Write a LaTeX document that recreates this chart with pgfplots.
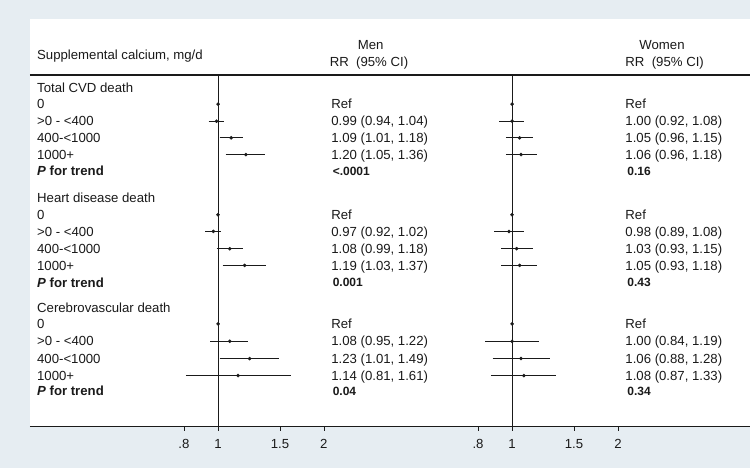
\documentclass[border=0pt]{standalone}
\usepackage{pgfplots}
\pgfplotsset{compat=1.18}
\usepackage{fontspec}
\setmainfont{Liberation Sans}
\definecolor{bgblue}{HTML}{E6EDF2}
\definecolor{ink}{HTML}{1A1A1A}
\newcommand{\tf}{\fontsize{13.2bp}{15bp}\selectfont}
\newcommand{\pf}{\fontsize{12bp}{14bp}\selectfont\bfseries}
\newcommand{\lab}[3]{\node[anchor=base west, inner sep=0, text=ink, font=\tf] at (#1,#2+4.7) {#3};}
\newcommand{\plab}[3]{\node[anchor=base west, inner sep=0, text=ink, font=\pf] at (#1,#2+4.4) {#3};}
\begin{document}
\begin{tikzpicture}
\begin{scope}[x=1bp,y=-1bp]
\useasboundingbox (0,0) rectangle (751,469);
\fill[bgblue] (0,0) rectangle (751,469);
\fill[white] (30,19) rectangle (751,427);
% header
\node[anchor=base west, inner sep=0, text=ink, font=\tf] at (37,59.7) {Supplemental calcium, mg/d};
\node[anchor=base west, inner sep=0, text=ink, font=\tf] at (358,49.2) {Men};
\node[anchor=base west, inner sep=0, text=ink, font=\tf] at (330,66.2) {RR\ \ (95\% CI)};
\node[anchor=base west, inner sep=0, text=ink, font=\tf] at (640,49.2) {Women};
\node[anchor=base west, inner sep=0, text=ink, font=\tf] at (626,66.2) {RR\ \ (95\% CI)};
% left labels
\lab{37}{88.3}{Total CVD death}
\lab{37}{104.3}{0}
\lab{37}{121.3}{>0 - <400}
\lab{37}{138}{400-<1000}
\lab{37}{154.8}{1000+}
\node[anchor=base west, inner sep=0, text=ink, font=\tf\bfseries] at (37,171+4.7) {\textit{P} for trend};
\lab{37}{198.3}{Heart disease death}
\lab{37}{215}{0}
\lab{37}{231.7}{>0 - <400}
\lab{37}{249}{400-<1000}
\lab{37}{265.7}{1000+}
\node[anchor=base west, inner sep=0, text=ink, font=\tf\bfseries] at (37,282.7+4.7) {\textit{P} for trend};
\lab{37}{308.3}{Cerebrovascular death}
\lab{37}{324.3}{0}
\lab{37}{341.7}{>0 - <400}
\lab{37}{359}{400-<1000}
\lab{37}{376}{1000+}
\node[anchor=base west, inner sep=0, text=ink, font=\tf\bfseries] at (37,391.7+4.7) {\textit{P} for trend};
% men column
\lab{331.5}{104.3}{Ref}
\lab{331.5}{121.3}{0.99 (0.94, 1.04)}
\lab{331.5}{138}{1.09 (1.01, 1.18)}
\lab{331.5}{154.8}{1.20 (1.05, 1.36)}
\plab{333}{171}{<.0001}
\lab{331.5}{215}{Ref}
\lab{331.5}{231.7}{0.97 (0.92, 1.02)}
\lab{331.5}{249}{1.08 (0.99, 1.18)}
\lab{331.5}{265.7}{1.19 (1.03, 1.37)}
\plab{333}{282.7}{0.001}
\lab{331.5}{324.3}{Ref}
\lab{331.5}{341.7}{1.08 (0.95, 1.22)}
\lab{331.5}{359}{1.23 (1.01, 1.49)}
\lab{331.5}{376}{1.14 (0.81, 1.61)}
\plab{333}{391.7}{0.04}
% women column
\lab{626}{104.3}{Ref}
\lab{626}{121.3}{1.00 (0.92, 1.08)}
\lab{626}{138}{1.05 (0.96, 1.15)}
\lab{626}{154.8}{1.06 (0.96, 1.18)}
\plab{628}{171}{0.16}
\lab{626}{215}{Ref}
\lab{626}{231.7}{0.98 (0.89, 1.08)}
\lab{626}{249}{1.03 (0.93, 1.15)}
\lab{626}{265.7}{1.05 (0.93, 1.18)}
\plab{628}{282.7}{0.43}
\lab{626}{324.3}{Ref}
\lab{626}{341.7}{1.00 (0.84, 1.19)}
\lab{626}{359}{1.06 (0.88, 1.28)}
\lab{626}{376}{1.08 (0.87, 1.33)}
\plab{628}{391.7}{0.34}
\end{scope}

% Men panel
\begin{axis}[at={(163.76bp,-75.3bp)}, anchor=north west,
  scale only axis, width=168bp, height=351.7bp,
  xmode=log, xmin=0.7, xmax=2.1,
  ymin=75.3, ymax=427, y dir=reverse,
  axis line style={draw=none},
  ytick=\empty,
  xtick={0.8,1,1.5,2}, xticklabels={.8,1,1.5,2},
  xtick pos=left, tick align=outside,
  major tick length=4.5bp,
  tick style={ink, line width=0.8bp},
  xticklabel style={font=\tf, text=ink, yshift=-5bp},
  clip=false,
  unbounded coords=jump]
\addplot[ink, line width=0.9bp] coordinates {(1,75.3) (1,427)};
\addplot[ink, line width=0.9bp] table[row sep=\\] {
x y\\
0.94 121.3\\ 1.04 121.3\\ nan nan\\
1.01 138\\ 1.18 138\\ nan nan\\
1.05 154.8\\ 1.36 154.8\\ nan nan\\
0.92 231.7\\ 1.02 231.7\\ nan nan\\
0.99 249\\ 1.18 249\\ nan nan\\
1.03 265.7\\ 1.37 265.7\\ nan nan\\
0.95 341.7\\ 1.22 341.7\\ nan nan\\
1.01 359\\ 1.49 359\\ nan nan\\
0.81 376\\ 1.61 376\\
};
\addplot[only marks, mark=*, mark size=1.6bp, ink] table[row sep=\\] {
x y\\
1 104.3\\ 0.99 121.3\\ 1.09 138\\ 1.20 154.8\\
1 215\\ 0.97 231.7\\ 1.08 249\\ 1.19 265.7\\
1 324.3\\ 1.08 341.7\\ 1.23 359\\ 1.14 376\\
};
\end{axis}

% Women panel
\begin{axis}[at={(458.16bp,-75.3bp)}, anchor=north west,
  scale only axis, width=168bp, height=351.7bp,
  xmode=log, xmin=0.7, xmax=2.1,
  ymin=75.3, ymax=427, y dir=reverse,
  axis line style={draw=none},
  ytick=\empty,
  xtick={0.8,1,1.5,2}, xticklabels={.8,1,1.5,2},
  xtick pos=left, tick align=outside,
  major tick length=4.5bp,
  tick style={ink, line width=0.8bp},
  xticklabel style={font=\tf, text=ink, yshift=-5bp},
  clip=false,
  unbounded coords=jump]
\addplot[ink, line width=0.9bp] coordinates {(1,75.3) (1,427)};
\addplot[ink, line width=0.9bp] table[row sep=\\] {
x y\\
0.92 121.3\\ 1.08 121.3\\ nan nan\\
0.96 138\\ 1.15 138\\ nan nan\\
0.96 154.8\\ 1.18 154.8\\ nan nan\\
0.89 231.7\\ 1.08 231.7\\ nan nan\\
0.93 249\\ 1.15 249\\ nan nan\\
0.93 265.7\\ 1.18 265.7\\ nan nan\\
0.84 341.7\\ 1.19 341.7\\ nan nan\\
0.88 359\\ 1.28 359\\ nan nan\\
0.87 376\\ 1.33 376\\
};
\addplot[only marks, mark=*, mark size=1.6bp, ink] table[row sep=\\] {
x y\\
1 104.3\\ 1.00 121.3\\ 1.05 138\\ 1.06 154.8\\
1 215\\ 0.98 231.7\\ 1.03 249\\ 1.05 265.7\\
1 324.3\\ 1.00 341.7\\ 1.06 359\\ 1.08 376\\
};
\end{axis}

\begin{scope}[x=1bp,y=-1bp]
\draw[ink, line width=1.8bp] (30,75.3) -- (751,75.3);
\draw[ink, line width=1.8bp] (30,427) -- (751,427);
\end{scope}
\end{tikzpicture}
\end{document}
